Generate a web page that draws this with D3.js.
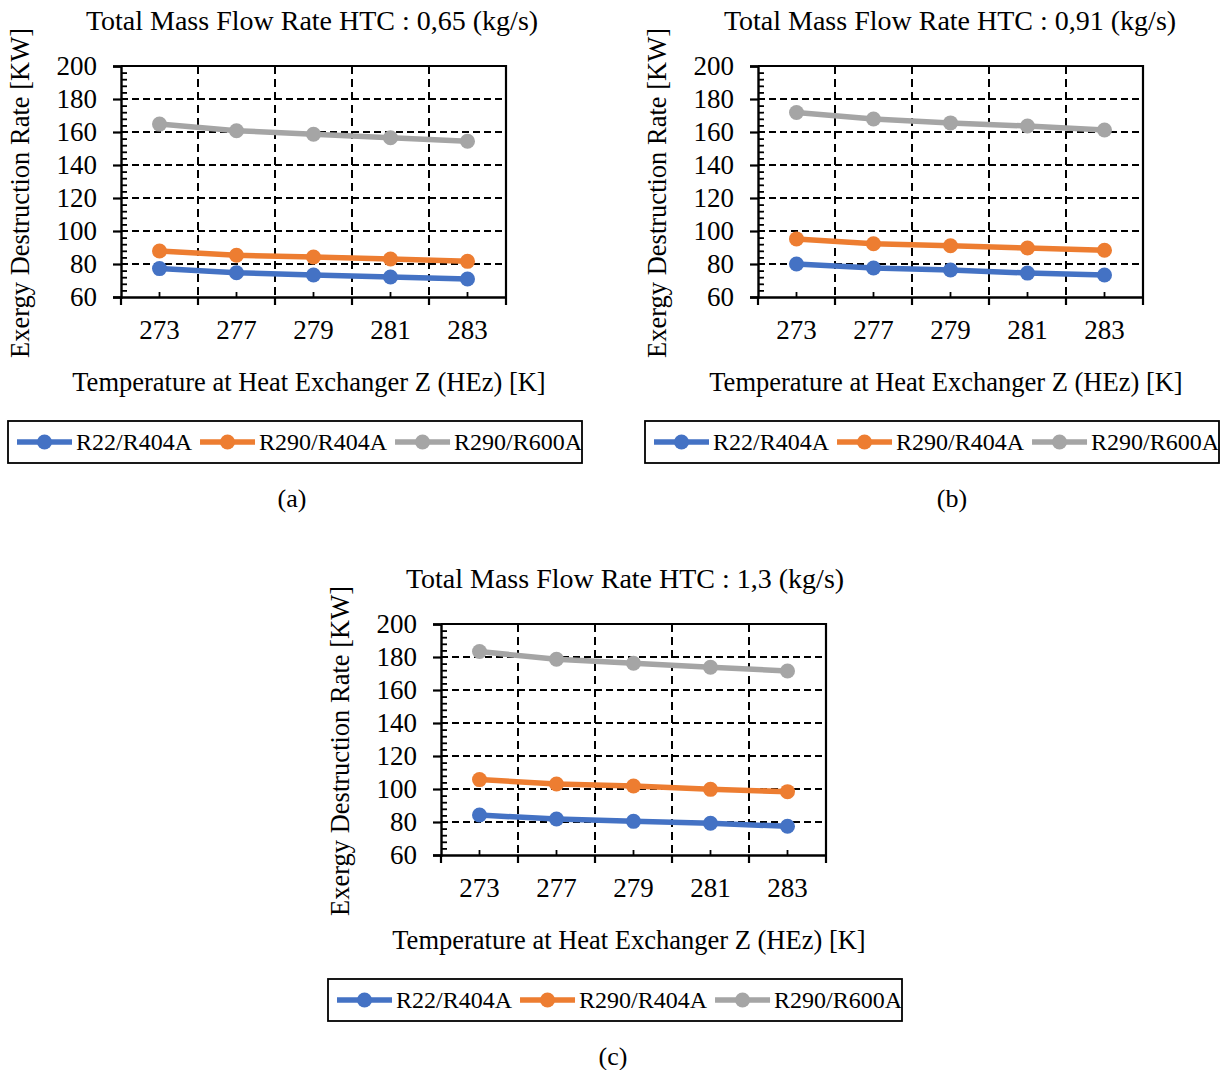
<!DOCTYPE html>
<html>
<head>
<meta charset="utf-8">
<script src="https://cdn.jsdelivr.net/npm/d3@7"></script>
<style>
  html, body { margin: 0; padding: 0; background: #fff; }
  svg { display: block; }
  text { font-family: "Liberation Serif", "Times New Roman", serif; fill: #000; }
</style>
</head>
<body>
<svg id="chart" width="1227" height="1070"></svg>
<script>
// ---- data ----
const categories = ["273", "277", "279", "281", "283"];
const seriesNames = ["R22/R404A", "R290/R404A", "R290/R600A"];
const yTicks = [60, 80, 100, 120, 140, 160, 180, 200];
const panelTitles = [
  "Total Mass Flow Rate HTC : 0,65 (kg/s)",
  "Total Mass Flow Rate HTC : 0,91 (kg/s)",
  "Total Mass Flow Rate HTC : 1,3 (kg/s)"
];
const panelLabels = ["(a)", "(b)", "(c)"];
const xTitle = "Temperature at Heat Exchanger Z (HEz) [K]";
const yTitle = "Exergy Destruction Rate [KW]";

const r22_a = [77.2, 74.7, 73.3, 72.1, 70.9];
const r290r404_a = [87.9, 85.3, 84.2, 83.0, 81.6];
const r290r600_a = [164.8, 160.8, 158.6, 156.5, 154.4];

const r22_b = [80.0, 77.6, 76.4, 74.5, 73.3];
const r290r404_b = [95.2, 92.3, 91.1, 89.7, 88.3];
const r290r600_b = [171.8, 167.9, 165.5, 163.6, 161.2];

const r22_c = [84.2, 81.8, 80.4, 79.2, 77.4];
const r290r404_c = [105.7, 103.0, 101.8, 99.8, 98.4];
const r290r600_c = [183.3, 178.6, 176.2, 173.8, 171.5];

const colors = ["#4472C4", "#ED7D31", "#A5A5A5"];

const panels = [
  { dx: 0,   dy: 0,   titleX: 312, labelX: 292, series: [r22_a, r290r404_a, r290r600_a] },
  { dx: 637, dy: 0,   titleX: 313, labelX: 315, series: [r22_b, r290r404_b, r290r600_b] },
  { dx: 320, dy: 558, titleX: 305, labelX: 293, series: [r22_c, r290r404_c, r290r600_c] }
];

const svg = d3.select("#chart");

panels.forEach((p, pi) => {
  const g = svg.append("g").attr("transform", `translate(${p.dx},${p.dy})`);
  const x0 = 121, x1 = 506, y0 = 66, y1 = 297;

  const x = d3.scaleBand().domain(categories).range([x0, x1]);
  const y = d3.scaleLinear().domain([60, 200]).range([y1, y0]);
  const minor = d3.range(60, 200.1, 4).filter(v => v % 20 !== 0);

  // horizontal dashed gridlines
  g.append("g").selectAll("line").data(yTicks.filter(v => v > 60 && v < 200)).join("line")
    .attr("x1", x0).attr("x2", x1)
    .attr("y1", d => y(d)).attr("y2", d => y(d))
    .attr("stroke", "#000").attr("stroke-width", 2).attr("stroke-dasharray", "7,4");

  // vertical dashed gridlines at category boundaries
  const bounds = categories.slice(1).map(c => x(c));
  g.append("g").selectAll("line").data(bounds).join("line")
    .attr("x1", d => d).attr("x2", d => d)
    .attr("y1", y0).attr("y2", y1)
    .attr("stroke", "#000").attr("stroke-width", 2).attr("stroke-dasharray", "8,5");

  // plot border top / right
  g.append("path")
    .attr("d", `M${x0},${y0}H${x1}V${y1}`)
    .attr("fill", "none").attr("stroke", "#000").attr("stroke-width", 2.2);

  // y axis (major ticks outside)
  const yAxis = g.append("g").attr("transform", `translate(${x0},0)`)
    .call(d3.axisLeft(y).tickValues(yTicks).tickSize(8).tickPadding(16).tickFormat(d3.format("d")));
  yAxis.select(".domain").attr("stroke", "#000").attr("stroke-width", 2.4);
  yAxis.selectAll(".tick line").attr("stroke", "#000").attr("stroke-width", 2.2);
  yAxis.selectAll(".tick text").attr("font-size", 27).attr("font-family", "Liberation Serif").attr("fill", "#000");
  // minor ticks inside
  g.append("g").attr("transform", `translate(${x0},0)`)
    .call(d3.axisRight(y).tickValues(minor).tickSize(6).tickFormat(""))
    .call(s => s.select(".domain").remove())
    .selectAll(".tick line").attr("stroke", "#000").attr("stroke-width", 1.8);

  // x axis
  const xAxis = g.append("g").attr("transform", `translate(0,${y1})`)
    .call(d3.axisBottom(x).tickSize(0).tickPadding(23));
  xAxis.select(".domain").attr("stroke", "#000").attr("stroke-width", 2.4);
  xAxis.selectAll(".tick text").attr("font-size", 27).attr("font-family", "Liberation Serif").attr("fill", "#000");
  // minor ticks at category centres (inside)
  g.append("g").selectAll("line").data(categories).join("line")
    .attr("x1", d => x(d) + x.bandwidth() / 2).attr("x2", d => x(d) + x.bandwidth() / 2)
    .attr("y1", y1).attr("y2", y1 - 5)
    .attr("stroke", "#000").attr("stroke-width", 1.8);
  // major ticks at boundaries (outside)
  g.append("g").selectAll("line").data([x0, ...bounds, x1]).join("line")
    .attr("x1", d => d).attr("x2", d => d)
    .attr("y1", y1).attr("y2", y1 + 8)
    .attr("stroke", "#000").attr("stroke-width", 2.2);

  // series
  const line = d3.line().x((d, i) => x(categories[i]) + x.bandwidth() / 2).y(d => y(d));
  p.series.forEach((vals, si) => {
    g.append("path").datum(vals)
      .attr("d", line).attr("fill", "none")
      .attr("stroke", colors[si]).attr("stroke-width", 5.5).attr("stroke-linejoin", "round");
    g.append("g").selectAll("circle").data(vals).join("circle")
      .attr("cx", (d, i) => x(categories[i]) + x.bandwidth() / 2)
      .attr("cy", d => y(d)).attr("r", 7.5).attr("fill", colors[si]);
  });

  // title
  g.append("text").attr("x", p.titleX).attr("y", 30).attr("text-anchor", "middle")
    .attr("font-size", 28).text(panelTitles[pi]);
  // x title
  g.append("text").attr("x", 309).attr("y", 391).attr("text-anchor", "middle")
    .attr("font-size", 26.5).text(xTitle);
  // y title
  g.append("text").attr("transform", "translate(29,193) rotate(-90)").attr("text-anchor", "middle")
    .attr("font-size", 26.5).text(yTitle);

  // legend
  const lg = g.append("g");
  lg.append("rect").attr("x", 8).attr("y", 421).attr("width", 574).attr("height", 42)
    .attr("fill", "#fff").attr("stroke", "#000").attr("stroke-width", 1.8);
  let cx = 17;
  seriesNames.forEach((name, si) => {
    lg.append("line").attr("x1", cx).attr("x2", cx + 55).attr("y1", 442).attr("y2", 442)
      .attr("stroke", colors[si]).attr("stroke-width", 5.5);
    lg.append("circle").attr("cx", cx + 27.5).attr("cy", 442).attr("r", 7.5).attr("fill", colors[si]);
    const t = lg.append("text").attr("x", cx + 59).attr("y", 450).attr("font-size", 24).text(name);
    cx = cx + 59 + t.node().getComputedTextLength() + 8;
  });

  // panel label
  g.append("text").attr("x", p.labelX).attr("y", 507).attr("text-anchor", "middle")
    .attr("font-size", 26).text(panelLabels[pi]);
});
</script>
</body>
</html>
